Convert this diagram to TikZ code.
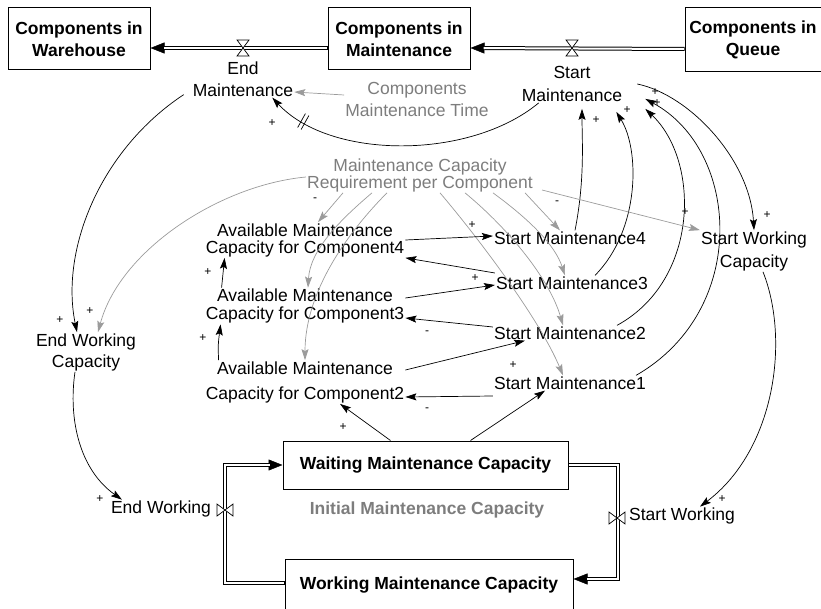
\documentclass[tikz,border=0pt]{standalone}
\usepackage{fontspec}
\setmainfont{Liberation Sans}
\usepackage{tikz}
\usetikzlibrary{arrows.meta}
\definecolor{varGray}{RGB}{125,125,125}
\definecolor{linkGray}{RGB}{155,155,155}

\begin{document}
\begin{tikzpicture}[x=1pt, y=-1pt,
    every node/.style={font=\fontsize{17.5}{20}\selectfont, align=center, inner sep=1pt},
    stock/.style={draw, line width=1pt, font=\bfseries\fontsize{17.5}{20}\selectfont},
    gvar/.style={text=varGray},
    link/.style={line width=0.7pt, -{Stealth[length=11pt,width=7pt,inset=2pt]}},
    glink/.style={link, draw=linkGray},
    pol/.style={font=\fontsize{12}{12}\selectfont, inner sep=0pt},
    pipe/.style={preaction={draw=black, line width=4pt, shorten >=0pt, shorten <=0pt,
        -{Triangle[length=14pt,width=11pt,line width=0.5pt]}},
      draw=white, line width=2pt, shorten >=13pt, shorten <=0.6pt},
    valve/.pic={\draw[-, fill=white, line width=0.7pt] (-6,-8) -- (6,-8) -- (-6,8) -- (6,8) -- cycle;},
    delay/.pic={\draw[-, line width=0.7pt] (-2,-8) -- (-2,8) (2,-8) -- (2,8);}]
  \useasboundingbox (0,0) rectangle (821,609);

  % stocks
  \node[stock, minimum width=142pt, minimum height=62pt] (warehouse) at (79,39) {Components in\\[2pt]Warehouse};
  \node[stock, minimum width=142pt, minimum height=62pt] (maint) at (399,39) {Components in\\[2pt]Maintenance};
  \node[stock, minimum width=136pt, minimum height=64pt] (queue) at (753,40) {Components in\\[2pt]Queue};
  \node[stock, minimum width=285pt, minimum height=48pt] (waiting) at (425.5,465) {Waiting Maintenance Capacity};
  \node[stock, minimum width=288pt, minimum height=52pt] (working) at (429,585) {Working Maintenance Capacity};

  % variables
  \node (endMaint) at (243,79) {End\\[2pt]Maintenance};
  \node (startMaint) at (572,84) {Start\\[3pt]Maintenance};
  \node[gvar] (maintTime) at (417,99) {Components\\[2pt]Maintenance Time};
  \node[gvar] (capReq) at (420,175) {Maintenance Capacity\\[-3pt]Requirement per Component};
  \node (avail4) at (305,240) {Available Maintenance\\[-3pt]Capacity for Component4};
  \node (avail3) at (305,306) {Available Maintenance\\[-2pt]Capacity for Component3};
  \node (avail2) at (305,382) {Available Maintenance\\[5pt]Capacity for Component2};
  \node (sm4) at (570,238) {Start Maintenance4};
  \node (sm3) at (572,283) {Start Maintenance3};
  \node (sm2) at (570,333) {Start Maintenance2};
  \node (sm1) at (570,383) {Start Maintenance1};
  \node (swCap) at (754,251) {Start Working\\[3pt]Capacity};
  \node (ewCap) at (86,352) {End Working\\[1pt]Capacity};
  \node (endWorking) at (161,509) {End Working};
  \node (startWorking) at (682,516) {Start Working};
  \node[gvar, font=\bfseries\fontsize{17.5}{20}\selectfont] (initCap) at (427,510) {Initial Maintenance Capacity};

  % flows
  \draw[pipe] ([yshift=-9pt]queue.west) -- ([yshift=-9pt]maint.east);
  \draw[pipe] ([yshift=-9pt]maint.west) -- ([yshift=-9pt]warehouse.east);
  \draw[pipe] ([yshift=2pt]working.west) -- ++(-60,0) |- (waiting.west);
  \draw[pipe] (waiting.east) -- ++(49,0) |- ([yshift=6pt]working.east);
  \pic (valveSM) at (572,48) {valve};
  \pic (valveEM) at (243,48) {valve};
  \pic[rotate=90] (valveEW) at (225,510) {valve};
  \pic[rotate=90] (valveSW) at (617,518) {valve};

  % causal links
  \draw[link] ([shift={(-8pt,3pt)}]endMaint.south west) .. controls (100,150) and (60,250) .. ([xshift=-9pt]ewCap.north);
  \draw[glink] ([yshift=-2pt]capReq.west) .. controls (220,185) and (120,250) .. ([xshift=12pt]ewCap.north);
  \draw[link] ([xshift=-11pt]ewCap.south) .. controls (68,420) and (80,470) .. ([xshift=12pt]endWorking.north west);
  \draw[link] ([xshift=14pt]startMaint.east) .. controls (690,95) and (750,160) .. (swCap.north);
  \draw[link] ([xshift=5pt]sm4.north) .. controls (585,180) and (582,140) .. ([shift={(10pt,-6pt)}]startMaint.south);
  \draw[link] ([xshift=23pt]sm3.north) .. controls (640,230) and (640,150) .. ([shift={(-7pt,-9pt)}]startMaint.south east);
  \draw[link] ([xshift=47pt]sm2.north) .. controls (700,280) and (700,160) .. ([shift={(22pt,-6pt)}]startMaint.south east);
  \draw[link] ([xshift=66pt]sm1.north) .. controls (750,310) and (740,150) .. ([shift={(22pt,4pt)}]startMaint.south east);
  \draw[link] ([xshift=18pt]startMaint.south west) .. controls (470,160) and (330,160) .. ([xshift=-22pt]endMaint.south east) pic[pos=0.85, sloped]{delay};
  \draw[glink] ([yshift=4pt]maintTime.west) -- ([yshift=-13pt]endMaint.east);
  \draw[glink] ([xshift=-77pt]capReq.south) -- ([xshift=13pt]avail4.north);
  \draw[glink] ([xshift=-48pt]capReq.south) .. controls (340,220) and (310,250) .. ([xshift=3pt]avail3.north);
  \draw[glink] ([xshift=-33pt]capReq.south) .. controls (350,230) and (305,290) .. (avail2.north);
  \draw[glink] ([xshift=105pt]capReq.south) -- ([xshift=-10pt]sm4.north);
  \draw[glink] ([xshift=73pt]capReq.south) .. controls (530,220) and (555,245) .. ([xshift=-7pt]sm3.north);
  \draw[glink] ([xshift=45pt]capReq.south) .. controls (510,230) and (550,280) .. ([xshift=-7pt]sm2.north);
  \draw[glink] ([xshift=20pt]capReq.south) .. controls (480,240) and (540,320) .. ([xshift=-7pt]sm1.north);
  \draw[glink] ([shift={(8pt,-15pt)}]capReq.east) -- (swCap.north west);
  \draw[link] ([xshift=9pt]swCap.south) .. controls (790,340) and (775,450) .. ([xshift=18pt]startWorking.north);
  \draw[link] (avail4.east) -- ([yshift=2pt]sm4.west);
  \draw[link] ([yshift=10pt]sm3.west) -- (avail4.south east);
  \draw[link] ([yshift=8pt]avail3.east) -- ([yshift=-2pt]sm3.west);
  \draw[link] ([yshift=6pt]sm2.west) -- ([yshift=-12pt]avail3.east);
  \draw[link] ([yshift=12pt]avail2.east) -- ([xshift=-45pt]sm2.south);
  \draw[link] ([yshift=-13pt]sm1.west) -- ([yshift=-15pt]avail2.east);
  \draw[link] ([xshift=17pt]avail3.north west) -- ([xshift=20pt]avail4.south west);
  \draw[link] ([xshift=14pt]avail2.north west) .. controls (218,345) .. ([xshift=16pt]avail3.south west);
  \draw[link] ([xshift=-35pt]waiting.north) -- ([xshift=35pt]avail2.south);
  \draw[link] ([xshift=45pt]waiting.north) -- ([xshift=-25pt]sm1.south);

  % polarities
  \foreach \px/\py/\s [count=\i] in {272/123/+, 60/320/+, 90/311/+, 100/499/+, 722/499/+,
      767/215/+, 685/212/+, 596/120/+, 627/110/+, 657/103/+, 655/92/+, 472/225/+, 475/278/+,
      513/365/+, 427/333/-, 427/410/-, 315/200/-, 557/203/-, 208/272/+, 203/338/+, 343/427/+}
    \node[pol] (pol\i) at (\px,\py) {\s};
\end{tikzpicture}
\end{document}
